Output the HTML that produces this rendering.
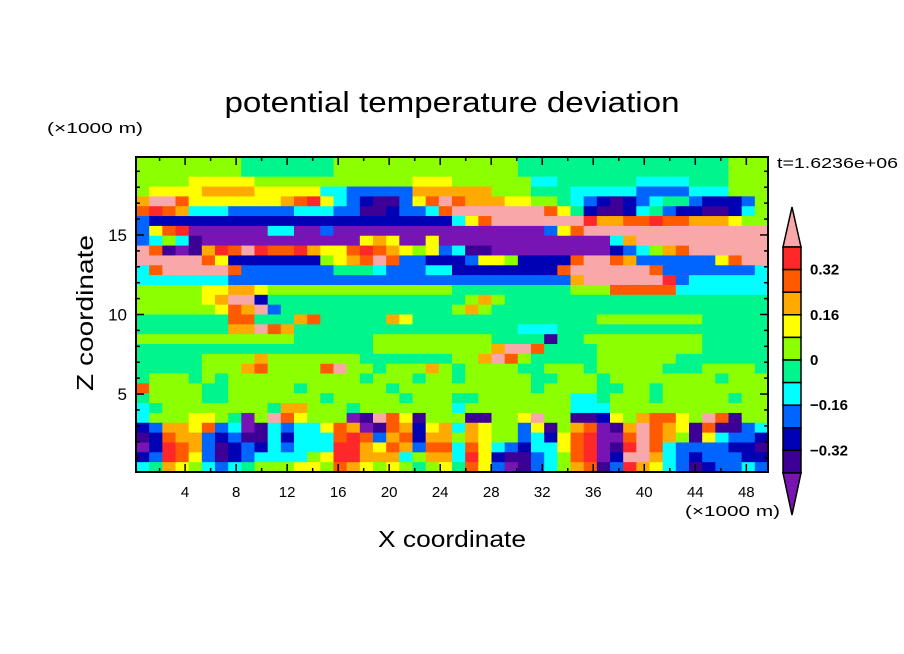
<!DOCTYPE html>
<html><head><meta charset="utf-8"><style>
html,body{margin:0;padding:0;background:#fff;}
svg{display:block;font-family:"Liberation Sans",sans-serif;}
</style></head><body>
<svg id="chart" width="904" height="654">
<g id="cells"></g>
<g id="axes"></g>
<g id="cbar"></g>
<text x="452" y="112" text-anchor="middle" font-size="29" textLength="455" lengthAdjust="spacingAndGlyphs">potential temperature deviation</text>
<text x="47" y="133" font-size="15" textLength="96" lengthAdjust="spacingAndGlyphs">(×1000 m)</text>
<text x="93" y="313" font-size="23" text-anchor="middle" transform="rotate(-90 93 313)" textLength="156" lengthAdjust="spacingAndGlyphs">Z coordinate</text>
<text x="452" y="547" font-size="23" text-anchor="middle" textLength="148" lengthAdjust="spacingAndGlyphs">X coordinate</text>
<text x="685" y="516" font-size="15" textLength="95" lengthAdjust="spacingAndGlyphs">(×1000 m)</text>
<text x="777" y="168" font-size="15" textLength="121" lengthAdjust="spacingAndGlyphs">t=1.6236e+06</text>
</svg>
<script>
// grid of contour level indices (hex 0=lowest .. B=highest), rows top (high Z) to bottom, 48 columns
const levelRows = [
"666666665555555666666666"+"666665555555555555555666",
"666666665555555666666666"+"666665555555555555555666",
"666677777666666666666777"+"666666445555554444555666",
"677778888777774433333888"+"888666555444443333444666",
"8BB9777777789A743211379B"+"988877665432123455322236",
"9A9844433333444331123349"+"BBBBBBB97521124532211246",
"322222222222222222222222"+"479BBBBBBBA889 9A99888766".replace(" ",""),
"379A00000044003000000000"+"0000000379BBBBBBBBBBBBBB",
"346410000000000007870070"+"0000000000004 8BBBBBBBBBB".replace(" ",""),
"B91018A9BA99A8779A987673"+"411000000000234689BBBBBB",
"BBBBB972222222 6789B93322".replace(" ","")+"2377622229BB9833333379BB",
"49BBBBB93333333555433344"+"222222229BBBBBB933333334",
"444444433333333333333333"+"3333333338BBBBBBA3444444",
"666667788766666666666666"+"555555555666999994444444",
"666667 8BB255555555555555".replace(" ","")+"568655555555555555555555",
"666666798B35555555555555"+"686555555555555555555555",
"555555599555895555587555"+"555555555556666666655555",
"555555588B98555555555555"+"555554445555555555555555",
"666666666666555555666666"+"666555515566666666655555",
"555555555555555555666666"+"6668BB955556666666655555",
"555556666866666665555555"+"668B96555556666665555555",
"5555566689666 69B66566686".replace(" ","")+"566665566656666655566665",
"566656566666666665666566"+"566666556665666666665666",
"966665566666566666656666"+"666666566665566566666666",
"566665566666665666665666"+"556666666445666566666566",
"456666666658866656666666"+"466666666444666666666666",
"4666776506B9766601B97166"+"611667B661127689976B9166",
"238879340143447980198278"+"48766371689018B987191134",
"1298832311424449A9389288"+"6876634279A009B986174332",
"02A983123243444AA8798399"+"4974324479A01AB943333221",
"23A973123444467AA8884688"+"4A72113469A02BB843233322",
"458764345666776987676567"+"5973013468913A8743123343"
];
// level boundary values for the colour scale (from colorbar)
const levelBounds = [-0.4,-0.32,-0.24,-0.16,-0.08,0,0.08,0.16,0.24,0.32,0.4];
const levelValues = [-0.44,-0.36,-0.28,-0.2,-0.12,-0.04,0.04,0.12,0.2,0.28,0.36,0.44];
const levelColors = ["#7814b4","#3c0096","#0000b4","#0064ff","#00ffff","#00f58c","#8cff00","#ffff00","#ffaa00","#ff5a00","#ff2828","#f8a8a8"];
const cbLabels = ["0.32","0.16","0","\u22120.16","\u22120.32"];
const cbLabelVals = [0.32,0.16,0,-0.16,-0.32];
const xTicks = [4,8,12,16,20,24,28,32,36,40,44,48];
const yTicks = [5,10,15];
const xDomain = [0.15,49.7];
const yDomain = [0.1,19.9];

const NS="http://www.w3.org/2000/svg";
const PL=136,PR=768,PT=157,PB=472;
const sx=v=>PL+(v-xDomain[0])/(xDomain[1]-xDomain[0])*(PR-PL);
const sy=v=>PB-(v-yDomain[0])/(yDomain[1]-yDomain[0])*(PB-PT);
function colorFor(v){let i=0;while(i<levelBounds.length&&v>levelBounds[i])i++;return levelColors[i];}
function mk(tag,attrs,parent){const e=document.createElementNS(NS,tag);for(const k in attrs)e.setAttribute(k,attrs[k]);parent.appendChild(e);return e;}

const cells=document.getElementById('cells');
const nR=levelRows.length, nC=48;
const dx=(xDomain[1]-xDomain[0])/nC, dz=(yDomain[1]-yDomain[0])/nR;
for(let r=0;r<nR;r++){
  const row=levelRows[r].padEnd(nC,"6");
  for(let c=0;c<nC;c++){
    const k=parseInt(row[c],16); const v=levelValues[isNaN(k)?6:Math.min(k,11)];
    const x0=sx(xDomain[0]+c*dx), x1=sx(xDomain[0]+(c+1)*dx);
    const zTop=yDomain[1]-r*dz, zBot=yDomain[1]-(r+1)*dz;
    const y0=sy(zTop), y1=sy(zBot);
    const e=mk('rect',{x:x0.toFixed(2),y:y0.toFixed(2),width:(x1-x0+0.6).toFixed(2),height:(y1-y0+0.6).toFixed(2),fill:colorFor(v)},cells);
    
    
  }
}
const ax=document.getElementById('axes');
const fr=mk('rect',{x:PL,y:PT,width:PR-PL,height:PB-PT,fill:'none',stroke:'#000','stroke-width':2},ax);


for(let v=2;v<=48;v+=2){
  const X=sx(v),L=(v%4===0)?8:4;
  mk('line',{x1:X,x2:X,y1:PB,y2:PB-L,stroke:'#000','stroke-width':1.5},ax);
  mk('line',{x1:X,x2:X,y1:PT,y2:PT+L,stroke:'#000','stroke-width':1.5},ax);
}
xTicks.forEach(v=>{const t=mk('text',{x:sx(v),y:497,'text-anchor':'middle','font-size':15},ax);t.textContent=v;
  
  });
for(let v=1;v<=19;v++){
  const Y=sy(v),L=(v%5===0)?8:4;
  mk('line',{x1:PL,x2:PL+L,y1:Y,y2:Y,stroke:'#000','stroke-width':1.5},ax);
  mk('line',{x1:PR,x2:PR-L,y1:Y,y2:Y,stroke:'#000','stroke-width':1.5},ax);
}
yTicks.forEach(v=>{const t=mk('text',{x:127,y:sy(v)+6,'text-anchor':'end','font-size':17},ax);t.textContent=v;
  
  });

// colorbar
const cb=document.getElementById('cbar');
const CX0=783,CX1=801,CT=247,CB=473;
const bh=(CB-CT)/10;
const tri1=mk('polygon',{points:`${CX0},${CT} ${CX1},${CT} ${(CX0+CX1)/2},207`,fill:levelColors[11],stroke:'#000','stroke-width':1.5},cb);


for(let i=0;i<10;i++){
  const r=mk('rect',{x:CX0,y:CT+i*bh,width:CX1-CX0,height:bh,fill:levelColors[10-i],stroke:'#000','stroke-width':1.5},cb);
  
  
}
const tri2=mk('polygon',{points:`${CX0},${CB} ${CX1},${CB} ${(CX0+CX1)/2},515`,fill:levelColors[0],stroke:'#000','stroke-width':1.5},cb);


const cbY=v=>CT+(0.4-v)/0.08*bh;
cbLabels.forEach((s,i)=>{const t=mk('text',{x:810,y:cbY(cbLabelVals[i])+5,'font-size':15,'font-weight':'bold'},cb);t.textContent=s;
  
  });
</script>
</body></html>
